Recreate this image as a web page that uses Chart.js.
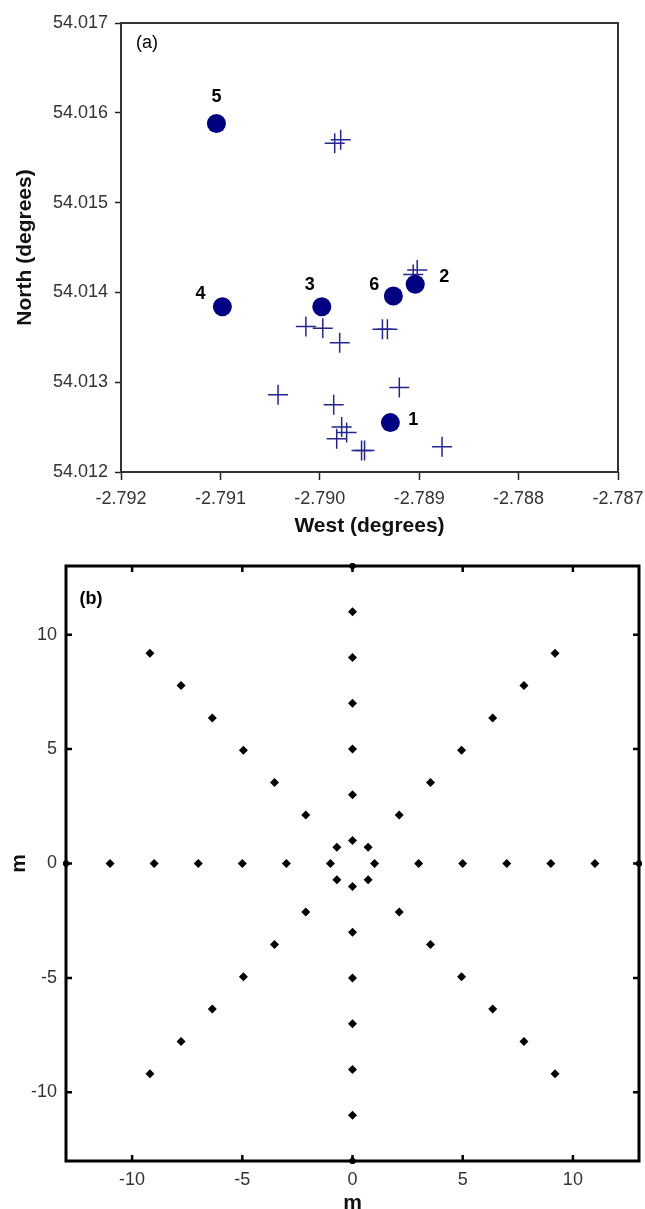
<!DOCTYPE html>
<html>
<head>
<meta charset="utf-8">
<script src="https://cdn.jsdelivr.net/npm/chart.js@4"></script>
<style>
  html, body { margin: 0; padding: 0; background: #fff; width: 645px; height: 1209px; overflow: hidden; }
  #topChart { position: absolute; left: 0; top: 0; }
  #bottomChart { position: absolute; left: 0; top: 545px; }
</style>
</head>
<body>
<canvas id="topChart" width="645" height="545"></canvas>
<canvas id="bottomChart" width="645" height="680"></canvas>
<script>
// (a) positions des sites (cercles) et des croix
const siteNames = ['1', '2', '3', '4', '5', '6'];
const siteWest = [-2.78929, -2.78904, -2.78998, -2.79098, -2.79104, -2.78926];
const siteNorth = [54.01255, 54.01409, 54.01384, 54.01384, 54.01588, 54.01396];

const crossWest = [-2.78985, -2.78979, -2.78906, -2.78902, -2.79014, -2.78997, -2.78980,
                   -2.78937, -2.78932, -2.78920, -2.79042, -2.78986, -2.78978, -2.78973,
                   -2.78983, -2.78958, -2.78955, -2.78877];
const crossNorth = [54.01566, 54.01570, 54.01420, 54.01425, 54.01362, 54.01360, 54.01344,
                    54.01359, 54.01359, 54.01294, 54.01286, 54.01275, 54.01250, 54.01244,
                    54.01237, 54.01224, 54.01224, 54.01228];

const westTicks = [-2.792, -2.791, -2.790, -2.789, -2.788, -2.787];
const northTicks = [54.012, 54.013, 54.014, 54.015, 54.016, 54.017];

// (b) layout en étoile (m)
const armOffsets = [1, 3, 5, 7, 9, 11, 13];
const diagOffsets = [0.71, 2.12, 3.54, 4.95, 6.36, 7.78, 9.19];
const meterTicks = [-10, -5, 0, 5, 10];

const FONT = 'Arial, "Liberation Sans", sans-serif';

// monta os pontos do gráfico (b)
const starPoints = [];
armOffsets.forEach(d => {
    starPoints.push({x: d, y: 0}, {x: -d, y: 0}, {x: 0, y: d}, {x: 0, y: -d});
});
diagOffsets.forEach(d => {
    starPoints.push({x: d, y: d}, {x: -d, y: d}, {x: d, y: -d}, {x: -d, y: -d});
});

// decalagem dos rótulos dos sites (px)
const labelOffsets = [[23, -3], [29, -7], [-12, -22], [-22, -13], [0, -27], [-19, -11]];

const boxPlugin = {
    id: 'box',
    afterDatasetsDraw(chart, args, opts) {
        const {ctx, chartArea: a} = chart;
        ctx.save();
        ctx.strokeStyle = opts.color;
        ctx.lineWidth = opts.width;
        ctx.strokeRect(a.left, a.top, a.right - a.left, a.bottom - a.top);
        ctx.fillStyle = '#000';
        ctx.font = opts.tagFont;
        ctx.textAlign = 'center';
        ctx.textBaseline = 'middle';
        ctx.fillText(opts.tag, a.left + opts.tagX, a.top + opts.tagY);
        ctx.restore();
    }
};

const siteLabels = {
    id: 'siteLabels',
    afterDatasetsDraw(chart) {
        const meta = chart.getDatasetMeta(0);
        const ctx = chart.ctx;
        ctx.save();
        ctx.fillStyle = '#000';
        ctx.font = 'bold 18px ' + FONT;
        ctx.textAlign = 'center';
        ctx.textBaseline = 'middle';
        meta.data.forEach((pt, i) => {
            ctx.fillText(siteNames[i], pt.x + labelOffsets[i][0], pt.y + labelOffsets[i][1]);
        });
        ctx.restore();
    }
};

// ticks para dentro, nos quatro lados
const inwardTicks = {
    id: 'inwardTicks',
    afterDatasetsDraw(chart) {
        const {ctx, chartArea: a, scales} = chart;
        ctx.save();
        ctx.strokeStyle = '#000';
        ctx.lineWidth = 2.5;
        ctx.beginPath();
        scales.x.ticks.forEach(t => {
            const px = scales.x.getPixelForValue(t.value);
            ctx.moveTo(px, a.bottom); ctx.lineTo(px, a.bottom - 6);
            ctx.moveTo(px, a.top); ctx.lineTo(px, a.top + 6);
        });
        scales.y.ticks.forEach(t => {
            const py = scales.y.getPixelForValue(t.value);
            ctx.moveTo(a.left, py); ctx.lineTo(a.left + 6, py);
            ctx.moveTo(a.right, py); ctx.lineTo(a.right - 6, py);
        });
        ctx.stroke();
        ctx.restore();
    }
};

window.onload = function() {
    // Gráfico (a)
    new Chart(document.getElementById('topChart').getContext('2d'), {
        type: 'scatter',
        data: {
            datasets: [{
                data: siteWest.map((w, i) => ({x: w, y: siteNorth[i]})),
                pointStyle: 'circle',
                pointRadius: 9.5,
                backgroundColor: '#000080',
                borderColor: '#000080',
                borderWidth: 0
            }, {
                data: crossWest.map((w, i) => ({x: w, y: crossNorth[i]})),
                pointStyle: 'cross',
                pointRadius: 10,
                borderColor: '#25258e',
                borderWidth: 1.5
            }]
        },
        options: {
            responsive: false,
            animation: false,
            devicePixelRatio: 1,
            layout: { padding: { top: 23, right: 27, left: 0, bottom: 0 } },
            plugins: {
                legend: { display: false },
                tooltip: { enabled: false },
                box: { color: '#333', width: 2, tag: '(a)', tagFont: '18px ' + FONT, tagX: 26, tagY: 20 }
            },
            scales: {
                x: {
                    type: 'linear',
                    min: -2.792, max: -2.787,
                    afterBuildTicks: s => { s.ticks = westTicks.map(v => ({value: v})); },
                    afterFit: s => { s.height = 73; s.paddingLeft = 0; s.paddingRight = 0; },
                    grid: { drawOnChartArea: false, tickLength: 8, color: '#222', tickWidth: 1.5 },
                    border: { display: false },
                    ticks: { padding: 8, color: '#333', font: { size: 18, family: FONT },
                             maxRotation: 0, callback: v => v.toFixed(3) },
                    title: { display: true, text: 'West (degrees)', color: '#111',
                             font: { size: 21, weight: 'bold', family: FONT }, padding: { top: 0, bottom: 6 } }
                },
                y: {
                    min: 54.012, max: 54.017,
                    afterBuildTicks: s => { s.ticks = northTicks.map(v => ({value: v})); },
                    afterFit: s => { s.width = 121; s.paddingTop = 0; s.paddingBottom = 0; },
                    grid: { drawOnChartArea: false, tickLength: 6, color: '#222', tickWidth: 1.5 },
                    border: { display: false },
                    ticks: { padding: 7, color: '#333', font: { size: 18, family: FONT },
                             callback: v => v.toFixed(3) },
                    title: { display: true, text: 'North (degrees)', color: '#111',
                             font: { size: 21, weight: 'bold', family: FONT }, padding: { top: 13, bottom: 0 } }
                }
            }
        },
        plugins: [boxPlugin, siteLabels]
    });

    // Gráfico (b)
    new Chart(document.getElementById('bottomChart').getContext('2d'), {
        type: 'scatter',
        data: {
            datasets: [{
                data: starPoints,
                pointStyle: 'rectRot',
                pointRadius: 4.5,
                backgroundColor: '#000',
                borderColor: '#000',
                borderWidth: 0,
                clip: 3
            }]
        },
        options: {
            responsive: false,
            animation: false,
            devicePixelRatio: 1,
            layout: { padding: { top: 21, right: 6, left: 0, bottom: 0 } },
            plugins: {
                legend: { display: false },
                tooltip: { enabled: false },
                box: { color: '#000', width: 3, tag: '(b)', tagFont: 'bold 18px ' + FONT, tagX: 25, tagY: 33 }
            },
            scales: {
                x: {
                    type: 'linear',
                    min: -13, max: 13,
                    afterBuildTicks: s => { s.ticks = meterTicks.map(v => ({value: v})); },
                    afterFit: s => { s.height = 64; s.paddingLeft = 0; s.paddingRight = 0; },
                    grid: { display: true, drawOnChartArea: false, drawTicks: false },
                    border: { display: false },
                    ticks: { padding: 8, color: '#333', font: { size: 18, family: FONT }, maxRotation: 0 },
                    title: { display: true, text: 'm', color: '#111',
                             font: { size: 21, weight: 'bold', family: FONT }, padding: { top: 0, bottom: 9 } }
                },
                y: {
                    min: -13, max: 13,
                    afterBuildTicks: s => { s.ticks = meterTicks.map(v => ({value: v})); },
                    afterFit: s => { s.width = 66; s.paddingTop = 0; s.paddingBottom = 0; },
                    grid: { display: true, drawOnChartArea: false, drawTicks: false },
                    border: { display: false },
                    ticks: { padding: 9, color: '#333', font: { size: 18, family: FONT } },
                    title: { display: true, text: 'm', color: '#111',
                             font: { size: 21, weight: 'bold', family: FONT }, padding: { top: 7, bottom: 0 } }
                }
            }
        },
        plugins: [boxPlugin, inwardTicks]
    });
};
</script>
</body>
</html>
